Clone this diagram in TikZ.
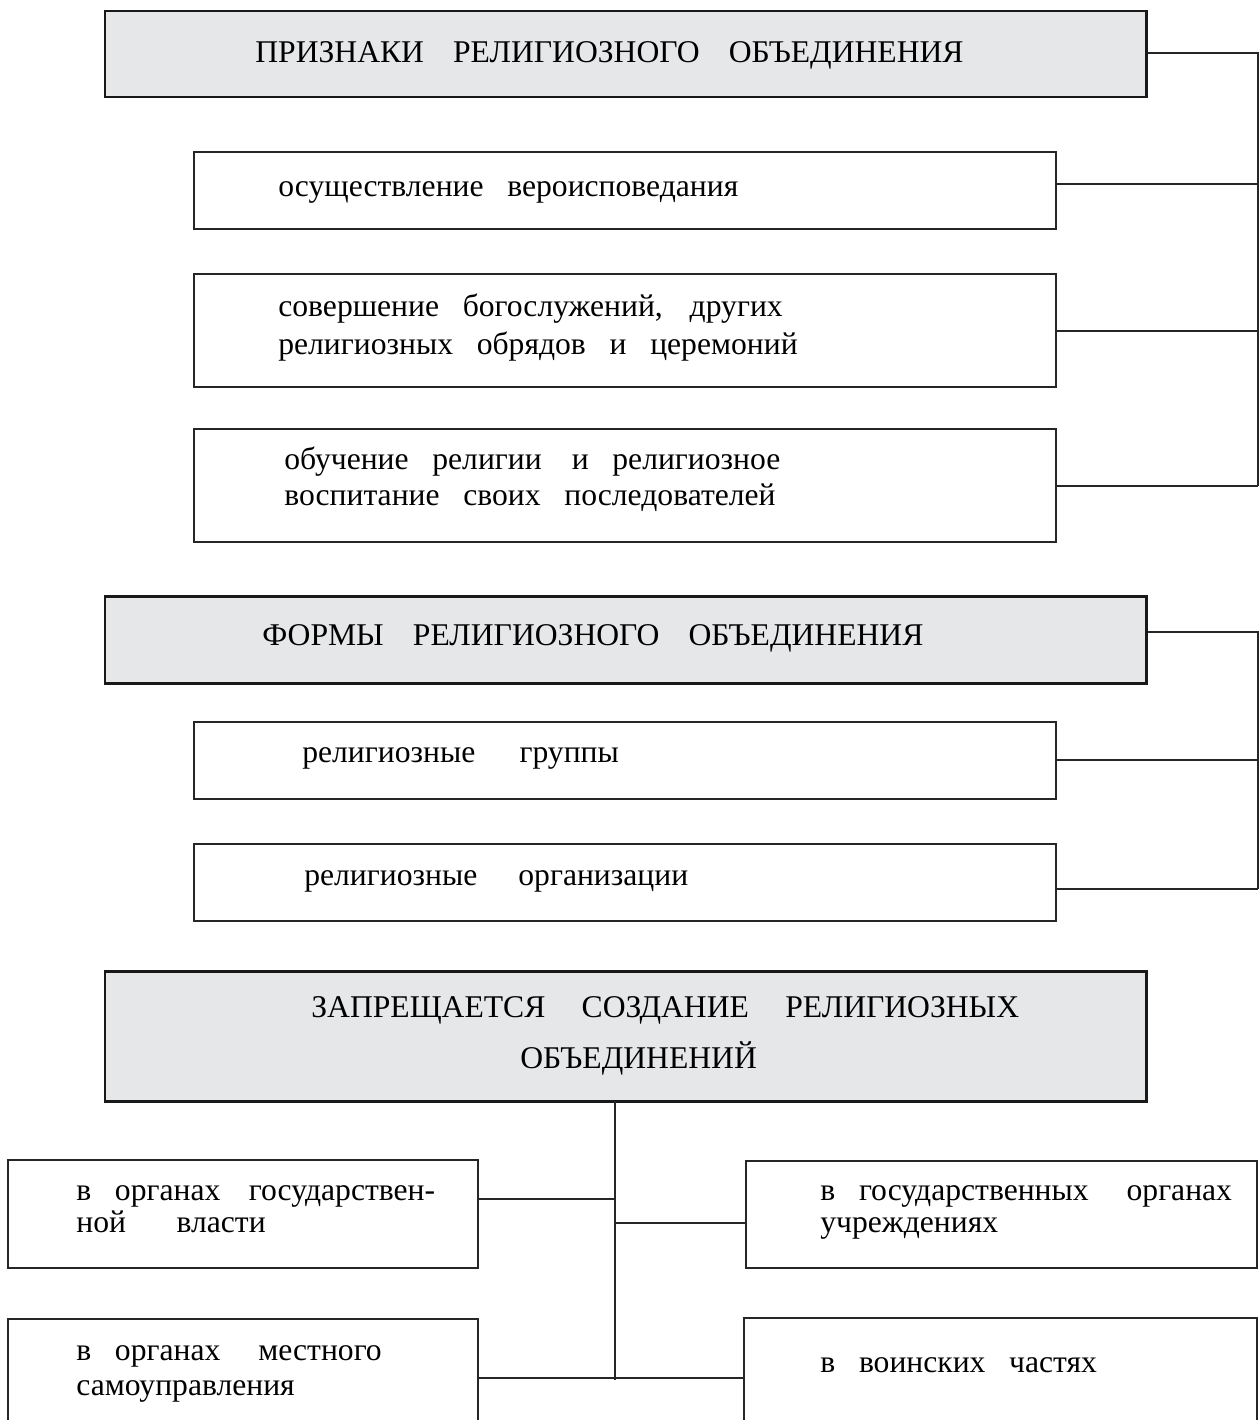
\documentclass[tikz,border=0pt]{standalone}
\usepackage{fontspec}
\setmainfont{Liberation Serif}
\usetikzlibrary{calc, fit}

\definecolor{headgray}{HTML}{E6E7E8}
\newcommand{\gp}{\hspace{0.75em}}
\newcommand{\hgp}{\hspace{0.92em}}

\tikzset{
    headbox/.style={draw=black!90, line width=1.7pt, fill=headgray, inner sep=0pt},
    itembox/.style={draw=black!85, line width=0.8pt, fill=white, inner sep=0pt},
    link/.style={draw=black!85, line width=0.7pt},
    txt/.style={anchor=base west, align=left, inner sep=0pt,
        font=\fontsize{18}{21}\selectfont}
}

\begin{document}
\begin{tikzpicture}[x=0.02cm, y=-0.02cm]
    \path[use as bounding box] (0,0) rectangle (1260,1420);
    \clip (0,0) rectangle (1260,1420);

    % Signs of a religious association
    \node[headbox, fit={(105,11) (1146,97)}] (signs) {};
    \node[itembox, fit={(194,152) (1056,229)}] (sA) {};
    \node[itembox, fit={(194,274) (1056,387)}] (sB) {};
    \node[itembox, fit={(194,429) (1056,542)}] (sC) {};

    % Forms
    \node[headbox, fit={(105,596) (1146,683)}] (forms) {};
    \node[itembox, fit={(194,722) (1056,799)}] (fA) {};
    \node[itembox, fit={(194,844) (1056,921)}] (fB) {};

    % Prohibited
    \node[headbox, fit={(105,971) (1146,1101)}] (ban) {};
    \node[itembox, fit={(8,1160) (478,1268)}] (bL1) {};
    \node[itembox, fit={(746,1161) (1257,1268)}] (bR1) {};
    \node[itembox, fit={(8,1319) (478,1470)}] (bL2) {};
    \node[itembox, fit={(744,1318) (1257,1470)}] (bR2) {};

    % Texts (base = last line)
    \node[txt] (tSigns) at (255,62) {ПРИЗНАКИ\hgp РЕЛИГИОЗНОГО\hgp ОБЪЕДИНЕНИЯ};
    \node[txt] (tA) at (278,196) {осуществление\gp вероисповедания};
    \node[txt, font=\fontsize{18}{21.5}\selectfont] (tB) at (278,354)
        {совершение\gp богослужений,\hspace{0.85em}других\\религиозных\gp обрядов\gp и\gp церемоний};
    \node[txt, font=\fontsize{18}{20}\selectfont] (tC) at (284,505)
        {обучение\gp религии\hspace{0.95em}и\gp религиозное\\воспитание\gp своих\gp последователей};
    \node[txt] (tForms) at (262,645) {ФОРМЫ\hgp РЕЛИГИОЗНОГО\hgp ОБЪЕДИНЕНИЯ};
    \node[txt] (tfA) at (302,762) {религиозные\hspace{1.4em}группы};
    \node[txt] (tfB) at (304,885) {религиозные\hspace{1.3em}организации};
    \node[txt] (tBan1) at (311,1017)
        {ЗАПРЕЩАЕТСЯ\hspace{1.15em}СОЗДАНИЕ\hspace{1.15em}РЕЛИГИОЗНЫХ};
    \node[txt] (tBan2) at (520,1068) {ОБЪЕДИНЕНИЙ};
    \node[txt, font=\fontsize{18}{18}\selectfont] (tL1) at (76,1232)
        {в\gp органах\hspace{0.9em}государствен-\\ной\hspace{1.6em}власти};
    \node[txt, font=\fontsize{18}{18}\selectfont] (tR1) at (820,1232)
        {в\gp государственных\hspace{1.2em}органах\\учреждениях};
    \node[txt, font=\fontsize{18}{19.8}\selectfont] (tL2) at (76,1395)
        {в\gp органах\hspace{1.2em}местного\\самоуправления};
    \node[txt] (tR2) at (820,1372) {в\gp воинских\gp частях};

    % Right rails
    \coordinate (railA) at (1258,53);
    \coordinate (railB) at (1258,632);
    \draw[link] (signs.east |- railA) -- (railA) -- (railA |- 0,486);
    \foreach \b/\y in {sA/184, sB/331, sC/486}{
        \draw[link] (\b.east |- 0,\y) -- (railA |- 0,\y);
    }
    \draw[link] (forms.east |- railB) -- (railB) -- (railB |- 0,889);
    \foreach \b/\y in {fA/760, fB/889}{
        \draw[link] (\b.east |- 0,\y) -- (railB |- 0,\y);
    }

    % Trunk below the prohibition box
    \coordinate (trunk) at (615,1101);
    \coordinate (jL1) at (615,1199);
    \coordinate (jR1) at (615,1223);
    \coordinate (jL2) at (615,1380);
    \draw[link] (trunk) -- (jL2);
    \draw[link] (bL1.east |- jL1) -- (jL1);
    \draw[link] (jR1) -- (bR1.west |- jR1);
    \draw[link] (bL2.east |- 0,1378) -- (bR2.west |- 0,1378);
\end{tikzpicture}
\end{document}
